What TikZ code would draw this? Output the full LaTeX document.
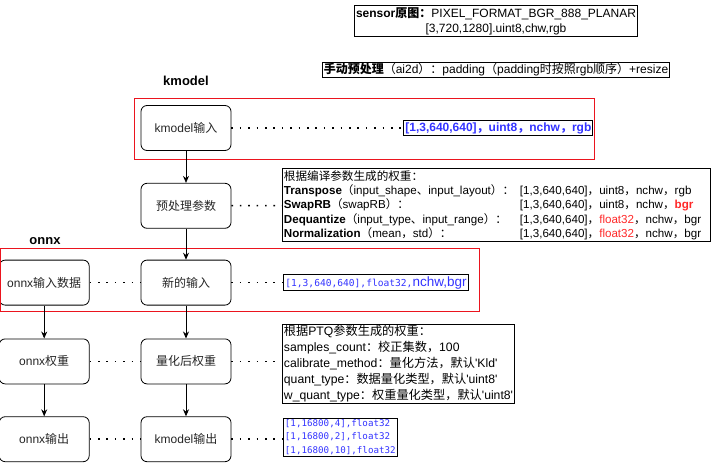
\documentclass[tikz,border=0pt]{standalone}
\usepackage{fontspec}
\setmainfont{Liberation Sans}
\newfontfamily\zhfont{Noto Sans CJK SC}
\newfontfamily\codefont{DejaVu Sans Mono}
\usetikzlibrary{arrows.meta,positioning}
\definecolor{specblue}{RGB}{51,51,255}
\definecolor{specred}{RGB}{255,40,40}
\definecolor{framered}{RGB}{235,20,30}
\newcommand{\zh}[1]{{\zhfont #1}}
\newcommand{\tabto}[2]{\makebox[236pt][l]{#1}#2}

\begin{document}
\begin{tikzpicture}[x=1pt,y=-1pt]
\tikzset{stage/.style={draw,line width=0.8pt,rounded corners=6pt,
  minimum width=90pt,minimum height=45pt,text=black!85,
  font=\fontsize{12}{14}\selectfont}}
\tikzset{notebox/.style={draw,line width=0.9pt,inner sep=1.5pt,
  align=left,anchor=west}}
\tikzset{link/.style={line width=0.8pt,-{Stealth[length=7pt,width=6pt]}}}
\tikzset{dots/.style={line width=1.6pt,dash pattern=on 1.6pt off 6.8pt}}
\tikzset{redframe/.style={draw=framered,line width=0.9pt}}
\useasboundingbox (0,0) rectangle (717,463);

% kmodel column
\node[stage] (kin) at (186,128) {kmodel\zh{输入}};
\node[stage,below=32pt of kin] (prep) {\zh{预处理参数}};
\node[stage,below=31pt of prep] (newin) {\zh{新的输入}};
\node[stage,below=33pt of newin] (qw) {\zh{量化后权重}};
\node[stage,below=32pt of qw] (kout) {kmodel\zh{输出}};
% onnx column
\node[stage,left=51pt of newin] (oin) {onnx\zh{输入数据}};
\node[stage,left=51pt of qw] (ow) {onnx\zh{权重}};
\node[stage,left=51pt of kout] (oout) {onnx\zh{输出}};

\node[font=\bfseries\fontsize{13}{15}\selectfont] (kmlabel) at (186,81) {kmodel};
\node[font=\bfseries\fontsize{13}{15}\selectfont] (onnxlabel) at (45,241) {onnx};

% notes
\node[notebox,anchor=center,align=center,font=\fontsize{12}{15}\selectfont] (sensor) at (496,21)
  {\textbf{sensor\zh{原图：}}PIXEL\_FORMAT\_BGR\_888\_PLANAR\\{[3,720,1280].uint8,chw,rgb}};
\node[notebox,anchor=center,font=\fontsize{12}{14}\selectfont] (manual) at (496,70)
  {\textbf{\zh{手动预处理}}\zh{（}ai2d\zh{）：}padding\zh{（}padding\zh{时按照}rgb\zh{顺序）}+resize};
\node[notebox,right=172pt of kin,text=specblue,font=\bfseries\fontsize{12}{14}\selectfont] (kspec)
  {[1,3,640,640]\zh{，}uint8\zh{，}nchw\zh{，}rgb};
\node[notebox,text width=425pt,font=\fontsize{11.6}{14.3}\selectfont] (compile) at (282,205)
  {\zh{根据编译参数生成的权重：}\\
   \tabto{\textbf{Transpose}\zh{（}input\_shape\zh{、}input\_layout\zh{）：}}{[1,3,640,640]\zh{，}uint8\zh{，}nchw\zh{，}rgb}\\
   \tabto{\textbf{SwapRB}\zh{（}swapRB\zh{）：}}{[1,3,640,640]\zh{，}uint8\zh{，}nchw\zh{，}\textcolor{specred}{\textbf{bgr}}}\\
   \tabto{\textbf{Dequantize}\zh{（}input\_type\zh{、}input\_range\zh{）：}}{[1,3,640,640]\zh{，}\textcolor{specred}{float32}\zh{，}nchw\zh{，}bgr}\\
   \tabto{\textbf{Normalization}\zh{（}mean\zh{，}std\zh{）：}}{[1,3,640,640]\zh{，}\textcolor{specred}{float32}\zh{，}nchw\zh{，}bgr}};
\node[notebox,right=52pt of newin,text=specblue,font=\fontsize{13.5}{15}\selectfont] (ospec)
  {{\codefont\fontsize{9.6}{12}\selectfont [1,3,640,640],float32,}nchw,bgr};
\node[notebox,font=\fontsize{12.2}{16}\selectfont] (ptq) at (282,364)
  {\zh{根据}PTQ\zh{参数生成的权重：}\\
   samples\_count\zh{：校正集数，}100\\
   calibrate\_method\zh{：量化方法，默认}\textquotesingle Kld\textquotesingle\\
   quant\_type\zh{：数据量化类型，默认}\textquotesingle uint8\textquotesingle\\
   w\_quant\_type\zh{：权重量化类型，默认}\textquotesingle uint8\textquotesingle};
\node[notebox,text=specblue,font=\codefont\fontsize{9.2}{13.3}\selectfont] (outspec) at (283,437)
  {[1,16800,4],float32\\{[1,16800,2],float32}\\{[1,16800,10],float32}};

% frames
\draw[redframe] (134,98) rectangle (594,159);
\draw[redframe] (0,248) rectangle (479,311);

% flow
\draw[link] (kin) -- (prep);
\draw[link] (prep) -- (newin);
\draw[link] (newin) -- (qw);
\draw[link] (qw) -- (kout);
\draw[link] (oin) -- (ow);
\draw[link] (ow) -- (oout);

% dotted links
\draw[dots] (kin) -- (kspec);
\draw[dots] (prep) -- (compile);
\draw[dots] (oin) -- (newin);
\draw[dots] (newin) -- (ospec);
\draw[dots] (ow) -- (qw);
\draw[dots] (qw.east) -- (qw.east -| ptq.west);
\draw[dots] (oout) -- (kout);
\draw[dots] (kout.east) -- (kout.east -| outspec.west);
\end{tikzpicture}
\end{document}
